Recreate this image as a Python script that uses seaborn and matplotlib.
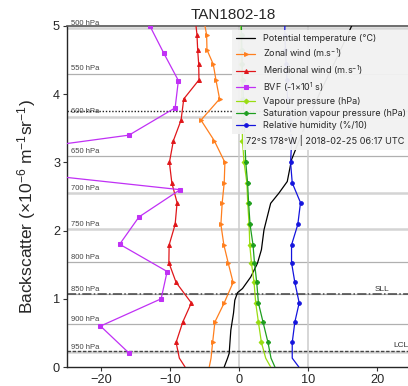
import matplotlib
matplotlib.use("Agg")
import matplotlib.pyplot as plt
import seaborn as sns
import pandas as pd

# ---- sounding profile data ----
height_km = [0.0, 0.13, 0.36, 0.66, 0.94, 1.24, 1.53, 1.79, 2.09, 2.41, 2.70,
             3.00, 3.32, 3.62, 3.93, 4.21, 4.44, 4.65, 4.87, 5.00]
meridional_wind = [-7.87, -8.7, -9.17, -8.20, -6.96, -9.17, -10.22, -10.18, -9.31, -9.03, -9.79,
                   -10.14, -9.56, -8.45, -8.06, -5.85, -5.89, -6.04, -6.14, -6.28]
zonal_wind = [-4.36, -4.1, -3.87, -3.54, -2.19, -0.90, -1.62, -2.24, -2.67, -2.48, -2.19,
              -2.09, -3.64, -5.56, -2.86, -3.39, -3.78, -4.69, -4.74, -4.98]
vapour_pressure = [4.55, 3.83, 3.21, 2.77, 2.38, 2.14, 1.76, 1.52, 1.42, 1.22, 1.10,
                   0.69, 0.46, 0.40, 0.35, 0.32, 0.30, 0.27, 0.25, 0.25]
saturation_vp = [5.17, 4.60, 4.16, 3.44, 2.77, 2.53, 2.20, 1.99, 1.56, 1.35, 1.20,
                 0.94, 0.80, 0.68, 0.58, 0.50, 0.43, 0.38, 0.33, 0.30]
relative_humidity = [8.64, 7.68, 7.68, 8.06, 8.69, 8.06, 7.58, 7.58, 8.49, 8.88, 7.68,
                     7.44, 7.60, 7.30, 7.00, 6.90, 6.80, 6.70, 6.60, 6.61]

bvf_height_km = [5.0, 4.6, 4.2, 3.8, 3.4, 3.0, 2.6, 2.2, 1.8, 1.4, 1.0, 0.6, 0.2]
bvf = [-12.97, -10.95, -8.84, -9.31, -16.0, -45.2, -8.59, -14.56, -17.36, -10.47,
       -11.34, -20.14, -15.96]

theta_height_km = [0.0, 0.13, 0.20, 0.54, 0.79, 0.98, 1.09, 1.15, 1.32, 1.52, 1.72,
                   2.01, 2.40, 2.55, 2.72, 3.04, 3.50, 4.00, 4.50, 5.00]
potential_temp = [-2.19, -1.70, -1.47, -1.23, -0.84, -0.65, -0.26, 0.46, 1.66, 2.63, 3.21,
                  3.58, 4.55, 5.75, 6.96, 7.58, 9.40, 11.60, 14.00, 16.30]

pressure_levels = ["500 hPa", "550 hPa", "600 hPa", "650 hPa", "700 hPa",
                   "750 hPa", "800 hPa", "850 hPa", "900 hPa", "950 hPa"]
pressure_height_km = [4.965, 4.30, 3.67, 3.09, 2.55, 2.02, 1.535, 1.07, 0.63, 0.215]
sll_km = 1.07
lcl_km = 0.24
dotted_km = 3.75

title = "TAN1802-18"
station_text = "72°S 178°W | 2018-02-25 06:17 UTC"

sns.set_style("ticks")
plt.rcParams["font.family"] = ["Liberation Sans", "DejaVu Sans"]
plt.rcParams["mathtext.default"] = "regular"

W, H = 408, 386
fig = plt.figure(figsize=(W / 100, H / 100), dpi=100)
ax = fig.add_axes([67 / W, 19 / H, (411.6 - 67) / W, 341 / H])

# pressure-level reference lines
for lbl, y in zip(pressure_levels, pressure_height_km):
    light = lbl in ("600 hPa", "700 hPa", "750 hPa", "950 hPa", "500 hPa")
    ax.axhline(y, color="#d4d4d4" if light else "#b0b0b0", lw=1.8 if light else 0.9, zorder=1)
    ax.text(-24.4, y + 0.02, lbl, fontsize=5.5, color="#444444", va="bottom", ha="left", zorder=2)

ax.axvline(0, color="#cccccc", lw=1.1, zorder=1)
ax.axvline(10, color="#cccccc", lw=1.1, zorder=1)

ax.axhline(sll_km, color="#444444", lw=1.1, ls=(0, (6, 1.5, 1, 1.5)), zorder=2)
ax.axhline(lcl_km, color="#444444", lw=1.0, ls=(0, (2.5, 1.2)), zorder=2)
ax.axhline(dotted_km, color="#222222", lw=1.0, ls=(0, (1, 1.3)), zorder=2)
ax.text(19.6, sll_km + 0.02, "SLL", fontsize=6, color="#333333", va="bottom")
ax.text(22.3, lcl_km + 0.02, "LCL", fontsize=6, color="#333333", va="bottom")

main = pd.DataFrame({
    "height": height_km,
    "meridional": meridional_wind,
    "zonal": zonal_wind,
    "vp": vapour_pressure,
    "svp": saturation_vp,
    "rh": relative_humidity,
})
bvf_df = pd.DataFrame({"height": bvf_height_km, "bvf": bvf})
theta_df = pd.DataFrame({"height": theta_height_km, "theta": potential_temp})

mark_idx = list(range(2, len(height_km) - 1))
common = dict(estimator=None, sort=False, orient="y", ax=ax, lw=0.9, zorder=4)

sns.lineplot(data=theta_df, x="theta", y="height", color="black",
             label="Potential temperature (°C)", **common)
sns.lineplot(data=main, x="zonal", y="height", color="#ff7f1e", marker=">", ms=2.8,
             mec="#ff7f1e", markevery=mark_idx, label="Zonal wind (m.s$^{-1}$)", **common)
sns.lineplot(data=main, x="meridional", y="height", color="#e0161a", marker="^", ms=2.8,
             mec="#e0161a", markevery=mark_idx, label="Meridional wind (m.s$^{-1}$)", **common)
sns.lineplot(data=bvf_df, x="bvf", y="height", color="#c030f5", marker="s", ms=2.8,
             mec="#c030f5", label="BVF (-1×10$^{1}$ s)", **common)
sns.lineplot(data=main, x="vp", y="height", color="#99dd11", marker="D", ms=2.4,
             mec="#99dd11", markevery=mark_idx, label="Vapour pressure (hPa)", **common)
sns.lineplot(data=main, x="svp", y="height", color="#1e9e1e", marker="P", ms=2.8,
             mec="#1e9e1e", markevery=mark_idx, label="Saturation vapour pressure (hPa)", **common)
sns.lineplot(data=main, x="rh", y="height", color="#1414dd", marker="o", ms=2.6,
             mec="#1414dd", markevery=mark_idx, label="Relative humidity (%/10)", **common)

ax.set_xlim(-25, 25)
ax.set_ylim(0, 5)
ax.set_xticks([-20, -10, 0, 10, 20])
ax.set_yticks([0, 1, 2, 3, 4, 5])
ax.tick_params(labelsize=9.2, length=3, width=0.8, color="#333333", pad=2)
ax.set_xlabel("")
ax.set_ylabel("Backscatter (×10$^{-6}$ m$^{-1}$sr$^{-1}$)", fontsize=12.5)
ax.yaxis.set_label_coords((38 - 67) / 344.6, 0.47)
ax.spines["right"].set_visible(False)
ax.spines["top"].set_color("#555555")
ax.spines["top"].set_linewidth(1.2)
ax.spines["left"].set_linewidth(1.0)
ax.spines["bottom"].set_linewidth(1.0)

ax.set_title(title, fontsize=11, x=(233.5 - 67) / 344.6, pad=5)

handles, labels = ax.get_legend_handles_labels()
leg = ax.legend(handles, labels, loc="upper left",
                bbox_to_anchor=(232 / W, 1 - 30 / H), bbox_transform=fig.transFigure,
                borderaxespad=0, frameon=True, fancybox=False, framealpha=0.95,
                facecolor="#f2f2f2", edgecolor="none",
                prop={"family": ["Inter", "DejaVu Sans"], "size": 6.5},
                handlelength=2.1, handletextpad=0.9, labelspacing=0.36, borderpad=0.45)
leg.set_zorder(10)

fig.text(246 / W, 1 - 141 / H, station_text, fontsize=6.6, family=["Inter", "DejaVu Sans"],
         va="center", ha="left", zorder=11,
         bbox=dict(facecolor="#f2f2f2", edgecolor="none", pad=2.5, alpha=0.95))

fig.savefig("out.png", dpi=100)
